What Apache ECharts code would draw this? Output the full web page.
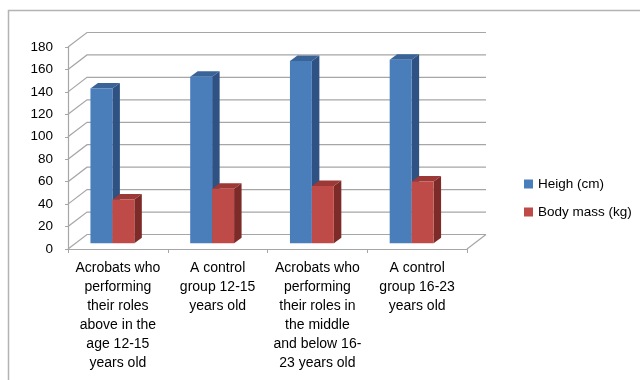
<!DOCTYPE html>
<html>
<head>
<meta charset="utf-8">
<script src="https://cdn.jsdelivr.net/npm/echarts@6/dist/echarts.min.js"></script>
<style>
html,body{margin:0;padding:0;background:#fff;}
#chart{width:640px;height:380px;}
</style>
</head>
<body>
<div id="chart"></div>
<script>
var categories = [
  "Acrobats who\nperforming\ntheir roles\nabove in the\nage 12-15\nyears old",
  "A control\ngroup 12-15\nyears old",
  "Acrobats who\nperforming\ntheir roles in\nthe middle\nand below 16-\n23 years old",
  "A control\ngroup 16-23\nyears old"
];
var heightCm = [138, 148.5, 162.5, 163.5];
var bodyMassKg = [39, 48.5, 51, 55];
var yTicks = [0, 20, 40, 60, 80, 100, 120, 140, 160, 180];
var seriesNames = ["Heigh (cm)", "Body mass (kg)"];

var FONT = '"Liberation Sans", Arial, sans-serif';
var GRID_COLOR = '#A6A6A6';
var WALL_DX = 19, WALL_DY = -14.5;   // back wall offset
var BAR_DX = 7.5, BAR_DY = -5.5;     // bar depth
var BAR_PLANE_DY = -5.7;             // bars sit slightly behind the front edge

var chart = echarts.init(document.getElementById('chart'), null, {renderer: 'canvas'});

function wallRender(params, api) {
  var v = api.value(1);
  var p0 = api.coord([0, v]);
  var band = api.size([1, 0])[0];
  var p3 = api.coord([categories.length - 1, v]);
  var xl = p0[0] - band / 2;
  var xr = p3[0] + band / 2;
  var y = p0[1];
  var children = [{
    type: 'polyline',
    shape: {points: [[xl, y], [xl + WALL_DX, y + WALL_DY], [xr + WALL_DX, y + WALL_DY]]},
    style: {stroke: GRID_COLOR, lineWidth: 1.2, fill: null}
  }];
  if (v === 0) {
    children.push({
      type: 'line',
      shape: {x1: xr, y1: y, x2: xr + WALL_DX, y2: y + WALL_DY},
      style: {stroke: GRID_COLOR, lineWidth: 1.2}
    });
  }
  return {type: 'group', children: children};
}

function makeBarRender(idx, front, side, top) {
  return function (params, api) {
    var i = api.value(0);
    var v = api.value(1);
    var base = api.coord([i, 0]);
    var tp = api.coord([i, v]);
    var band = api.size([1, 0])[0];
    var w = band * 0.22;
    var pairLeft = base[0] - band * 0.055 - w;
    var xl = pairLeft + idx * w;
    var xr = xl + w;
    var yb = base[1] + BAR_PLANE_DY;
    var yt = tp[1] + BAR_PLANE_DY;
    return {
      type: 'group',
      children: [
        {type: 'polygon', shape: {points: [[xr, yt], [xr + BAR_DX, yt + BAR_DY], [xr + BAR_DX, yb + BAR_DY], [xr, yb]]},
         style: {fill: side}},
        {type: 'polygon', shape: {points: [[xl, yt], [xl + BAR_DX, yt + BAR_DY], [xr + BAR_DX, yt + BAR_DY], [xr, yt]]},
         style: {fill: top}},
        {type: 'rect', shape: {x: xl, y: yt, width: w, height: yb - yt},
         style: {fill: front}}
      ]
    };
  };
}

var option = {
  backgroundColor: '#fff',
  animation: false,
  graphic: [{
    type: 'polyline',
    shape: {points: [[8.5, 380], [8.5, 10.5], [640, 10.5]]},
    style: {stroke: '#B3B3B3', lineWidth: 1.5, fill: null},
    silent: true
  }],
  legend: {
    orient: 'vertical',
    left: 519,
    top: 172,
    itemWidth: 9,
    itemHeight: 9,
    itemGap: 14,
    icon: 'rect',
    data: seriesNames,
    textStyle: {fontFamily: FONT, fontSize: 13.5, color: '#000', lineHeight: 14}
  },
  grid: {left: 68, right: 173, top: 47, bottom: 131},
  xAxis: {
    type: 'category',
    data: categories,
    boundaryGap: true,
    axisLine: {show: true, lineStyle: {color: GRID_COLOR, width: 1.2}},
    axisTick: {show: true, length: 4, interval: 0, alignWithLabel: false, lineStyle: {color: GRID_COLOR}},
    axisLabel: {interval: 0, margin: 10, fontFamily: FONT, fontSize: 14, color: '#000', lineHeight: 19, align: 'center'},
    splitLine: {show: false}
  },
  yAxis: {
    type: 'value',
    min: 0,
    max: 180,
    interval: 20,
    axisLine: {show: true, lineStyle: {color: GRID_COLOR, width: 1.2}},
    axisTick: {show: true, length: 3, lineStyle: {color: GRID_COLOR}},
    axisLabel: {margin: 15, fontFamily: FONT, fontSize: 13.5, color: '#000'},
    splitLine: {show: false}
  },
  series: [
    {
      type: 'custom',
      name: 'wall',
      renderItem: wallRender,
      data: yTicks.map(function (v) { return [0, v]; }),
      silent: true,
      z: 1
    },
    {
      type: 'custom',
      name: seriesNames[0],
      itemStyle: {color: '#4A7EBB'},
      renderItem: makeBarRender(0, '#4A7EBB', '#2E5283', '#3A6398'),
      data: heightCm.map(function (v, i) { return [i, v]; }),
      z: 3
    },
    {
      type: 'custom',
      name: seriesNames[1],
      itemStyle: {color: '#BE4B48'},
      renderItem: makeBarRender(1, '#BE4B48', '#7D2B29', '#9C3836'),
      data: bodyMassKg.map(function (v, i) { return [i, v]; }),
      z: 3
    }
  ]
};
chart.setOption(option);
</script>
</body>
</html>
